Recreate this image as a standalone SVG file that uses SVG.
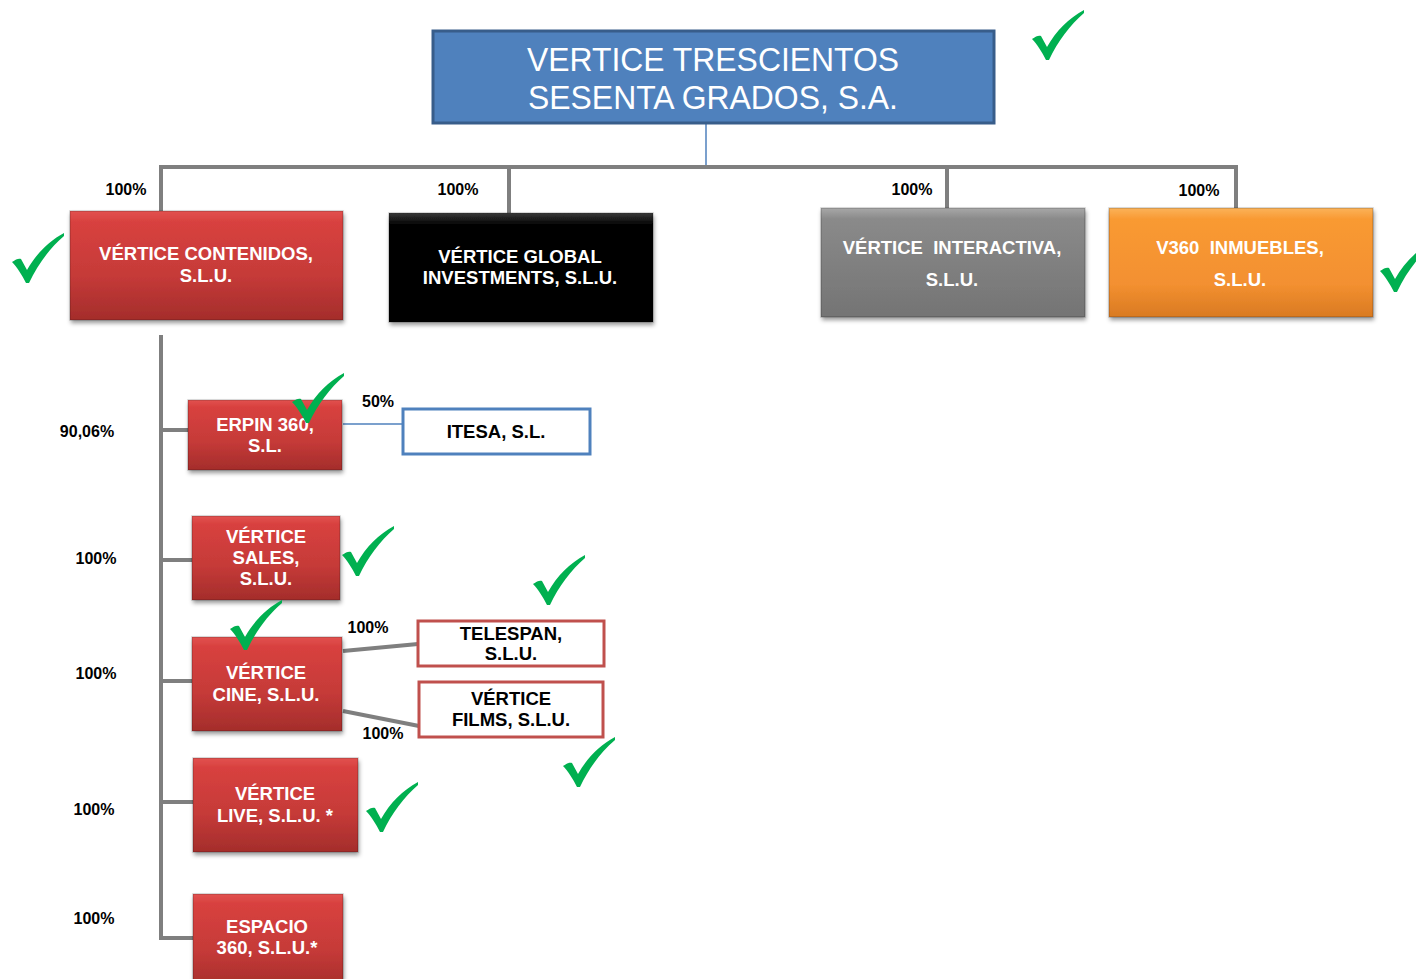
<svg xmlns="http://www.w3.org/2000/svg" width="1416" height="979" viewBox="0 0 1416 979">
<style>
.pct{font-family:"Liberation Sans",Arial,sans-serif;font-weight:bold;font-size:16px;fill:#000;text-anchor:middle}
.lbl{font-family:"Liberation Sans",Arial,sans-serif;font-weight:bold;font-size:18.5px;fill:#fff;text-anchor:middle}
.lblk{font-family:"Liberation Sans",Arial,sans-serif;font-weight:bold;font-size:18.5px;fill:#000;text-anchor:middle}
.title{font-family:"Liberation Sans",Arial,sans-serif;font-size:33px;fill:#fff;text-anchor:middle}
.gl{stroke:#7f7f7f;stroke-width:4;fill:none}
.bl{stroke:#4f81bd;stroke-width:1.5;fill:none}
.chk{fill:#00b050}
.box{stroke:rgba(0,0,0,0.18);stroke-width:1.5}
</style>
<defs>
<linearGradient id="gRed" x1="0" y1="0" x2="0" y2="1">
<stop offset="0" stop-color="#e25250"/><stop offset="0.1" stop-color="#d8413f"/><stop offset="0.6" stop-color="#c53a38"/><stop offset="1" stop-color="#a42d2b"/>
</linearGradient>
<linearGradient id="gBlack" x1="0" y1="0" x2="0" y2="1">
<stop offset="0" stop-color="#3a3a3a"/><stop offset="0.1" stop-color="#050505"/><stop offset="1" stop-color="#000"/>
</linearGradient>
<linearGradient id="gGray" x1="0" y1="0" x2="0" y2="1">
<stop offset="0" stop-color="#a8a8a8"/><stop offset="0.1" stop-color="#8a8a8a"/><stop offset="1" stop-color="#747474"/>
</linearGradient>
<linearGradient id="gOrange" x1="0" y1="0" x2="0" y2="1">
<stop offset="0" stop-color="#fbb35a"/><stop offset="0.1" stop-color="#f99a33"/><stop offset="0.7" stop-color="#f39030"/><stop offset="1" stop-color="#d97a22"/>
</linearGradient>
<filter id="sh" x="-10%" y="-10%" width="130%" height="140%">
<feDropShadow dx="1" dy="3" stdDeviation="2" flood-color="#000" flood-opacity="0.4"/>
</filter>
<path id="check" class="chk" d="M0,29 C4,26 7,25 9,26 L15,37 C24,21 37,8 52,0 L52,3 C38,15 26,31 17,50 L14,50 C10,42 5,34 0,29 Z"/>
</defs>
<rect width="1416" height="979" fill="#fff"/>

<g id="connectors">
<line class="bl" x1="706" y1="124" x2="706" y2="166"/>
<polyline class="gl" points="161,211 161,167 1236,167 1236,209"/>
<line class="gl" x1="509" y1="167" x2="509" y2="213"/>
<line class="gl" x1="947" y1="167" x2="947" y2="209"/>
<line class="gl" x1="161" y1="335" x2="161" y2="940"/>
<line class="gl" x1="161" y1="430" x2="189" y2="430"/>
<line class="gl" x1="161" y1="560" x2="193" y2="560"/>
<line class="gl" x1="161" y1="681" x2="193" y2="681"/>
<line class="gl" x1="161" y1="802" x2="194" y2="802"/>
<polyline class="gl" points="161,938 194,938"/>
<line class="bl" x1="343" y1="424" x2="403" y2="424"/>
<line class="gl" x1="343" y1="651" x2="418" y2="644"/>
<line class="gl" x1="343" y1="711" x2="419" y2="726"/>
</g>

<g id="n-root">
<rect x="433" y="31" width="561" height="92" fill="#4f81bd" stroke="#385d8a" stroke-width="3"/>
<text class="title" x="713" y="71" textLength="372" lengthAdjust="spacingAndGlyphs">VERTICE TRESCIENTOS</text>
<text class="title" x="713" y="109" textLength="370" lengthAdjust="spacingAndGlyphs">SESENTA GRADOS, S.A.</text>
</g>

<g id="n-contenidos">
<rect class="box" x="70" y="211" width="273" height="109" fill="url(#gRed)" filter="url(#sh)"/>
<text class="lbl" x="206" y="260">VÉRTICE CONTENIDOS,</text>
<text class="lbl" x="206" y="282">S.L.U.</text>
</g>
<g id="n-global">
<rect class="box" x="389" y="213" width="264" height="109" fill="url(#gBlack)" filter="url(#sh)"/>
<text class="lbl" x="520" y="263">VÉRTICE GLOBAL</text>
<text class="lbl" x="520" y="284">INVESTMENTS, S.L.U.</text>
</g>
<g id="n-interactiva">
<rect class="box" x="821" y="208" width="264" height="109" fill="url(#gGray)" filter="url(#sh)"/>
<text class="lbl" x="952" y="254">VÉRTICE&#160; INTERACTIVA,</text>
<text class="lbl" x="952" y="286">S.L.U.</text>
</g>
<g id="n-inmuebles">
<rect class="box" x="1109" y="208" width="264" height="109" fill="url(#gOrange)" filter="url(#sh)"/>
<text class="lbl" x="1240" y="254">V360&#160; INMUEBLES,</text>
<text class="lbl" x="1240" y="286">S.L.U.</text>
</g>

<g id="n-erpin">
<rect class="box" x="188" y="400" width="154" height="70" fill="url(#gRed)" filter="url(#sh)"/>
<text class="lbl" x="265" y="431">ERPIN 360,</text>
<text class="lbl" x="265" y="452">S.L.</text>
</g>
<g id="n-itesa">
<rect x="403" y="409" width="187" height="45" fill="#fff" stroke="#4f81bd" stroke-width="3"/>
<text class="lblk" x="496" y="438">ITESA, S.L.</text>
</g>
<g id="n-sales">
<rect class="box" x="192" y="516" width="148" height="84" fill="url(#gRed)" filter="url(#sh)"/>
<text class="lbl" x="266" y="543">VÉRTICE</text>
<text class="lbl" x="266" y="564">SALES,</text>
<text class="lbl" x="266" y="585">S.L.U.</text>
</g>
<g id="n-cine">
<rect class="box" x="192" y="637" width="150" height="94" fill="url(#gRed)" filter="url(#sh)"/>
<text class="lbl" x="266" y="679">VÉRTICE</text>
<text class="lbl" x="266" y="701">CINE, S.L.U.</text>
</g>
<g id="n-telespan">
<rect x="418" y="621" width="186" height="45" fill="#fff" stroke="#c0504d" stroke-width="3"/>
<text class="lblk" x="511" y="640">TELESPAN,</text>
<text class="lblk" x="511" y="660">S.L.U.</text>
</g>
<g id="n-films">
<rect x="419" y="682" width="184" height="55" fill="#fff" stroke="#c0504d" stroke-width="3"/>
<text class="lblk" x="511" y="705">VÉRTICE</text>
<text class="lblk" x="511" y="726">FILMS, S.L.U.</text>
</g>
<g id="n-live">
<rect class="box" x="193" y="758" width="165" height="94" fill="url(#gRed)" filter="url(#sh)"/>
<text class="lbl" x="275" y="800">VÉRTICE</text>
<text class="lbl" x="275" y="822">LIVE, S.L.U. *</text>
</g>
<g id="n-espacio">
<rect class="box" x="193" y="894" width="150" height="95" fill="url(#gRed)" filter="url(#sh)"/>
<text class="lbl" x="267" y="933">ESPACIO</text>
<text class="lbl" x="267" y="954">360, S.L.U.*</text>
</g>

<g id="percentages">
<text class="pct" x="126" y="195">100%</text>
<text class="pct" x="458" y="195">100%</text>
<text class="pct" x="912" y="195">100%</text>
<text class="pct" x="1199" y="196">100%</text>
<text class="pct" x="87" y="437">90,06%</text>
<text class="pct" x="96" y="564">100%</text>
<text class="pct" x="96" y="679">100%</text>
<text class="pct" x="94" y="815">100%</text>
<text class="pct" x="94" y="924">100%</text>
<text class="pct" x="378" y="407">50%</text>
<text class="pct" x="368" y="633">100%</text>
<text class="pct" x="383" y="739">100%</text>
</g>

<g id="checks">
<use href="#check" x="1032" y="10"/>
<use href="#check" x="12" y="233"/>
<use href="#check" x="1380" y="242"/>
<use href="#check" x="292" y="373"/>
<use href="#check" x="342" y="526"/>
<use href="#check" x="533" y="555"/>
<use href="#check" x="230" y="600"/>
<use href="#check" x="563" y="737"/>
<use href="#check" x="366" y="782"/>
</g>
</svg>
